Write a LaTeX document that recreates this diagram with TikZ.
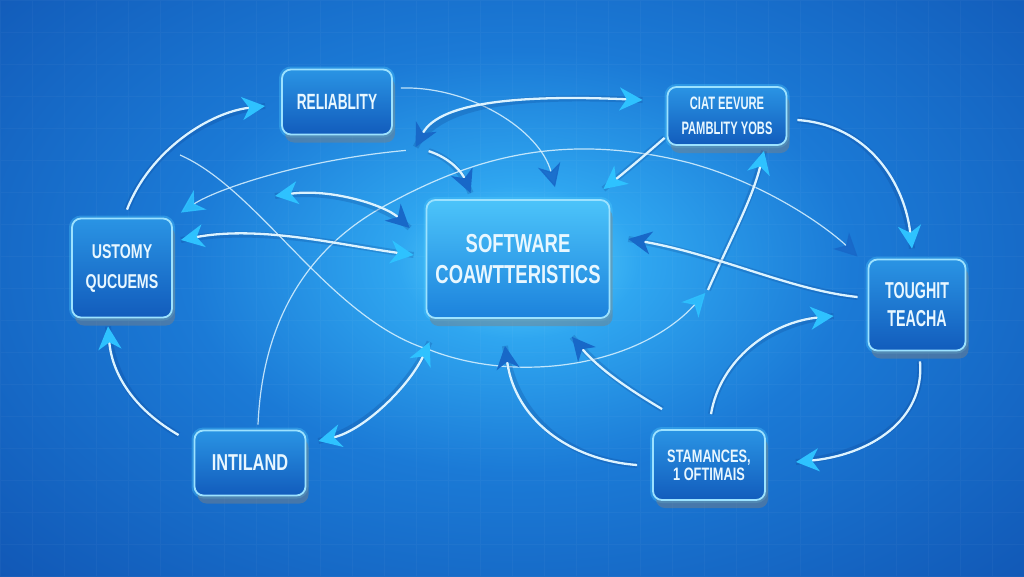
\documentclass[tikz,border=0pt]{standalone}
\usepackage{fontspec}
\newfontfamily\lab[FakeStretch=0.62]{Liberation Sans}
\newfontfamily\labw[FakeStretch=0.71]{Liberation Sans}
\usetikzlibrary{arrows.meta,shadows,calc}
\definecolor{bg0}{HTML}{62DAFF}
\definecolor{bg1}{HTML}{2FA6F0}
\definecolor{bg2}{HTML}{1B7AD6}
\definecolor{bg3}{HTML}{1157B5}
\definecolor{bg4}{HTML}{083480}
\definecolor{boxt}{HTML}{2A94E4}
\definecolor{boxb}{HTML}{125CBC}
\definecolor{cboxt}{HTML}{4CC4FA}
\definecolor{cboxb}{HTML}{1C82DC}
\definecolor{edgec}{HTML}{9CE2FF}
\definecolor{glowc}{HTML}{4FCBFF}
\definecolor{txtc}{HTML}{E8F7FF}
\definecolor{linec}{HTML}{DCF3FF}
\definecolor{shadc}{HTML}{0A3D8A}
\definecolor{tipcy}{HTML}{2EC2FF}
\definecolor{tipdk}{HTML}{1868C8}
\pgfdeclareradialshading{bgshade}{\pgfpoint{0bp}{0bp}}{color(0bp)=(bg0); color(4bp)=(bg1); color(11bp)=(bg2); color(24bp)=(bg3); color(50bp)=(bg4)}
\begin{document}
\begin{tikzpicture}[x=1pt,y=-1pt,
  box/.style={rounded corners=9pt, draw=edgec, line width=1.8pt, top color=boxt, bottom color=boxb,
    text=txtc, align=center, inner sep=0pt,
    preaction={draw=glowc, line width=6pt, opacity=.35},
    drop shadow={opacity=.45, shadow xshift=3pt, shadow yshift=-8pt}},
  cbox/.style={box, top color=cboxt, bottom color=cboxb},
  tipC/.tip={Stealth[length=23pt,width=23pt,inset=7pt,color=tipcy]},
  tipD/.tip={Stealth[length=23pt,width=23pt,inset=7pt,color=tipdk]},
  conn/.style={draw=linec, line width=2.3pt, preaction={draw=shadc, line width=6pt, opacity=.22, -}},
  thin/.style={draw=linec, line width=1.2pt, opacity=.85},
]
\useasboundingbox (0,0) rectangle (1024,576);
\begin{scope}
  \clip (0,0) rectangle (1024,576);
  \shade[shading=bgshade] (518,262) ellipse [x radius=760pt, y radius=480pt];
  \draw[white, opacity=.03, step=32pt] (0,0) grid (1024,576);
\end{scope}

% nodes
\node[box, minimum width=110pt, minimum height=65pt, font=\lab\bfseries\fontsize{22}{26}\selectfont] (rel) at (337,102) {RELIABLITY};
\node[box, minimum width=119pt, minimum height=58pt, font=\lab\bfseries\fontsize{18}{25}\selectfont] (ciat) at (727,116) {CIAT EEVURE\\PAMBLITY YOBS};
\node[box, minimum width=100pt, minimum height=99pt, font=\labw\bfseries\fontsize{20}{30}\selectfont] (ust) at (122,268) {USTOMY\\QUCUEMS};
\node[cbox, minimum width=183pt, minimum height=118pt, font=\labw\bfseries\fontsize{26}{31}\selectfont] (sw) at (518,259) {SOFTWARE\\COAWTTERISTICS};
\node[box, minimum width=97pt, minimum height=91pt, font=\lab\bfseries\fontsize{23}{28}\selectfont] (tou) at (917,305) {TOUGHIT\\TEACHA};
\node[box, minimum width=112pt, minimum height=70pt, font=\labw\bfseries\fontsize{18}{18}\selectfont] (sta) at (709,465) {STAMANCES,\\1 OFTIMAIS};
\node[box, minimum width=111pt, minimum height=65pt, font=\labw\bfseries\fontsize{23}{27}\selectfont] (int) at (250,463) {INTILAND};

% free ends
\coordinate (gL) at (275,196);
\coordinate (hS) at (180,155);
\coordinate (rS) at (708,290);

% connectors
\draw[conn,-tipC] ($(ust.north)+(5,-8)$) .. controls (150,150) and (210,112) .. ($(rel.west)+(-16,4)$);
\draw[thin,-tipD] ($(rel.east)+(8,-14)$) .. controls (470,86) and (540,130) .. ($(sw.north)+(37,-12)$);
\draw[conn,tipD-tipC] ($(sw.north west)+(-10,-52)$) .. controls (440,100) and (530,95) .. ($(ciat.west)+(-24,-16)$);
\draw[conn,-tipD] ($(sw.north west)+(3,-48)$) .. controls (450,158) and (462,172) .. ($(sw.north west)+(45,-6)$);
\draw[thin,-tipC] ($(rel.south east)+(13,15)$) .. controls (300,160) and (215,190) .. ($(ust.north east)+(8,-5)$);
\draw[thin,-tipD] ($(int.north)+(8,-5)$) .. controls (262,330) and (300,250) .. (390,203)
   .. controls (470,160) and (560,130) .. (690,163) .. controls (770,185) and (830,230) .. ($(tou.north west)+(-10,-2)$);
\draw[conn,tipC-tipC] ($(ust.east)+(8,-28)$) .. controls (260,225) and (340,245) .. ($(sw.west)+(-12,-4)$);
\draw[conn,tipC-tipD] (gL) .. controls (330,188) and (385,205) .. ($(sw.west)+(-16,-31)$);
\draw[thin,-tipC] (hS) .. controls (260,190) and (330,320) .. (430,350) .. controls (520,385) and (640,365) .. ($(sw.south east)+(95,-26)$);
\draw[conn,-tipC] (rS) .. controls (730,240) and (752,200) .. ($(ciat.south)+(37,5)$);
\draw[conn,-tipC] ($(int.west)+(-15,-28)$) .. controls (135,410) and (112,375) .. ($(ust.south)+(-14,8)$);
\draw[conn,tipC-tipC] ($(int.east)+(12,-22)$) .. controls (365,430) and (410,385) .. ($(sw.south west)+(4,23)$);
\draw[conn,-tipD] ($(sta.west)+(-15,0)$) .. controls (570,460) and (515,420) .. ($(sw.south)+(-13,27)$);
\draw[conn,-tipD] ($(sta.north west)+(10,-20)$) .. controls (630,390) and (600,370) .. ($(sw.south)+(54,18)$);
\draw[conn,-tipC] ($(sta.north)+(2,-15)$) .. controls (720,360) and (770,322) .. ($(tou.west)+(-34,11)$);
\draw[conn,-tipC] ($(tou.south)+(3,10)$) .. controls (925,420) and (870,455) .. ($(sta.east)+(30,-3)$);
\draw[conn,-tipC] ($(ciat.east)+(10,4)$) .. controls (870,125) and (905,185) .. ($(tou.north)+(-5,-10)$);
\draw[conn,-tipD] ($(tou.west)+(-10,-8)$) .. controls (790,290) and (720,255) .. ($(sw.east)+(18,-20)$);
\draw[conn,-tipC] ($(ciat.south west)+(-2,-8)$) .. controls (645,155) and (625,172) .. ($(sw.north east)+(-7,-10)$);
\end{tikzpicture}
\end{document}
